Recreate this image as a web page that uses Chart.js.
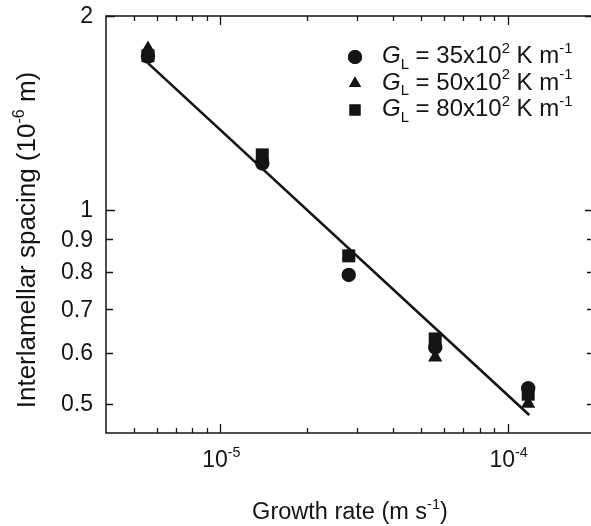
<!DOCTYPE html>
<html lang="en">
<head>
<meta charset="UTF-8">
<title>Interlamellar spacing vs growth rate</title>
<script src="https://cdn.jsdelivr.net/npm/chart.js"></script>
<style>
  html, body { margin: 0; padding: 0; background: #fff; overflow: hidden; }
  #wrap { width: 600px; height: 526px; }
</style>
</head>
<body>
<div id="wrap"><canvas id="chart" width="600" height="526"></canvas></div>
<script>
// growth rate (m/s) of the five solidification runs
const growthRate = [5.6e-6, 1.4e-5, 2.8e-5, 5.6e-5, 1.18e-4];
// interlamellar spacing (10^-6 m) for each thermal gradient G_L
const spacing35 = [1.73, 1.18, 0.792, 0.611, 0.528];
const spacing50 = [1.78, 1.21, 0.85, 0.590, 0.500];
const spacing80 = [1.735, 1.217, 0.848, 0.630, 0.517];
// fitted power law, drawn between its end points
const fitRate = [5.6e-6, 1.19e-4];
const fitSpacing = [1.69, 0.48];

const gradients = ['35', '50', '80'];

// axis ticks
const xMajorTicks = [1e-5, 1e-4];
const xMajorExp = ['-5', '-4'];
const xMinorTicks = [5e-6, 6e-6, 7e-6, 8e-6, 9e-6,
  2e-5, 3e-5, 4e-5, 5e-5, 6e-5, 7e-5, 8e-5, 9e-5, 2e-4];
const yTicks = [0.5, 0.6, 0.7, 0.8, 0.9, 1, 2];
const yTickLabels = ['0.5', '0.6', '0.7', '0.8', '0.9', '1', '2'];
const yMajorTicks = [1, 2];

const FONT = "'Liberation Sans', Arial, Helvetica, sans-serif";
const INK = '#141414';

function pairs(xs, ys) {
  return xs.map((x, i) => ({ x: x, y: ys[i] }));
}

// draw a run of text pieces: [text, kind] where kind is '', 'i', 'sub' or 'sup'
function richWidth(ctx, parts, size) {
  let w = 0;
  parts.forEach(p => {
    const s = (p[1] === 'sub' || p[1] === 'sup') ? size * 0.62 : size;
    ctx.font = (p[1] === 'i' ? 'italic ' : '') + s + 'px ' + FONT;
    w += ctx.measureText(p[0]).width;
  });
  return w;
}

function drawRich(ctx, parts, x, y, size, align) {
  ctx.save();
  ctx.textBaseline = 'alphabetic';
  ctx.textAlign = 'left';
  let cx = x;
  if (align === 'center') cx -= richWidth(ctx, parts, size) / 2;
  if (align === 'right') cx -= richWidth(ctx, parts, size);
  parts.forEach(p => {
    let s = size, dy = 0;
    if (p[1] === 'sub') { s = size * 0.62; dy = size * 0.24; }
    if (p[1] === 'sup') { s = size * 0.62; dy = -size * 0.42; }
    ctx.font = (p[1] === 'i' ? 'italic ' : '') + s + 'px ' + FONT;
    ctx.fillText(p[0], cx, y + dy);
    cx += ctx.measureText(p[0]).width;
  });
  ctx.restore();
}

const markerStyles = ['circle', 'triangle', 'rect'];
const markerRadius = [7.2, 8.2, 9.2];

const axesPlugin = {
  id: 'axesPlugin',
  afterDraw(chart) {
    const ctx = chart.ctx;
    const a = chart.chartArea;
    const xs = chart.scales.x, ys = chart.scales.y;
    ctx.save();
    ctx.strokeStyle = INK;
    ctx.fillStyle = INK;
    ctx.lineWidth = 1.5;
    ctx.strokeRect(a.left, a.top, a.right - a.left, a.bottom - a.top);

    ctx.lineWidth = 1.3;
    ctx.beginPath();
    // x ticks on bottom and top, pointing inward
    xMinorTicks.concat(xMajorTicks).forEach(v => {
      const px = Math.round(xs.getPixelForValue(v)) + 0.5;
      const len = xMajorTicks.includes(v) ? 9 : 5;
      ctx.moveTo(px, a.bottom); ctx.lineTo(px, a.bottom - len);
      ctx.moveTo(px, a.top); ctx.lineTo(px, a.top + len);
    });
    // y ticks on left and right
    yTicks.forEach(v => {
      const py = Math.round(ys.getPixelForValue(v)) + 0.5;
      const len = yMajorTicks.includes(v) ? 9 : 7;
      ctx.moveTo(a.left, py); ctx.lineTo(a.left + len, py);
      ctx.moveTo(a.right, py); ctx.lineTo(a.right - len, py);
    });
    ctx.stroke();

    // y tick labels
    ctx.font = '23px ' + FONT;
    ctx.textAlign = 'right';
    ctx.textBaseline = 'middle';
    yTicks.forEach((v, i) => {
      ctx.fillText(yTickLabels[i], 93, ys.getPixelForValue(v) + 1);
    });

    // x tick labels as powers of ten
    xMajorTicks.forEach((v, i) => {
      drawRich(ctx, [['10', ''], [xMajorExp[i], 'sup']],
        xs.getPixelForValue(v) + 1, 467, 23, 'center');
    });

    // axis titles
    drawRich(ctx, [['Growth rate (m s', ''], ['-1', 'sup'], [')', '']],
      350, 519, 23.5, 'center');
    ctx.save();
    ctx.translate(34.5, 240);
    ctx.rotate(-Math.PI / 2);
    drawRich(ctx, [['Interlamellar spacing (10', ''], ['-6', 'sup'], [' m)', '']],
      0, 0, 26, 'center');
    ctx.restore();

    // legend
    const rows = [63, 89.5, 116];
    gradients.forEach((g, i) => {
      Chart.helpers.drawPoint(ctx, {
        pointStyle: markerStyles[i],
        radius: i === 2 ? 7.8 : 7,
        rotation: 0
      }, 355, rows[i] - 6);
      ctx.fill();
      drawRich(ctx, [['G', 'i'], ['L', 'sub'], [' = ' + g + 'x10', ''],
        ['2', 'sup'], [' K m', ''], ['-1', 'sup']], 382, rows[i], 24, 'left');
    });
    ctx.restore();
  }
};

const seriesData = [spacing35, spacing50, spacing80];

new Chart(document.getElementById('chart'), {
  type: 'scatter',
  data: {
    datasets: seriesData.map((s, i) => ({
      label: 'G_L = ' + gradients[i] + 'x10^2 K/m',
      data: pairs(growthRate, s),
      pointStyle: markerStyles[i],
      pointRadius: markerRadius[i],
      pointBackgroundColor: INK,
      pointBorderWidth: 0,
      order: 1
    })).concat([{
      label: 'fit',
      data: pairs(fitRate, fitSpacing),
      showLine: true,
      borderColor: INK,
      borderWidth: 2.6,
      pointRadius: 0,
      order: 2
    }])
  },
  options: {
    responsive: false,
    animation: false,
    devicePixelRatio: 1,
    // canvas is wider than the window, so the right edge of the frame is cut off
    layout: {
      autoPadding: false,
      padding: { left: 106, top: 16, right: 6, bottom: 93 }
    },
    scales: {
      x: { type: 'logarithmic', min: 4e-6, max: 2e-4, display: false },
      y: { type: 'logarithmic', min: 0.45, max: 2, display: false }
    },
    plugins: {
      legend: { display: false },
      tooltip: { enabled: false }
    }
  },
  plugins: [axesPlugin]
});
</script>
</body>
</html>
